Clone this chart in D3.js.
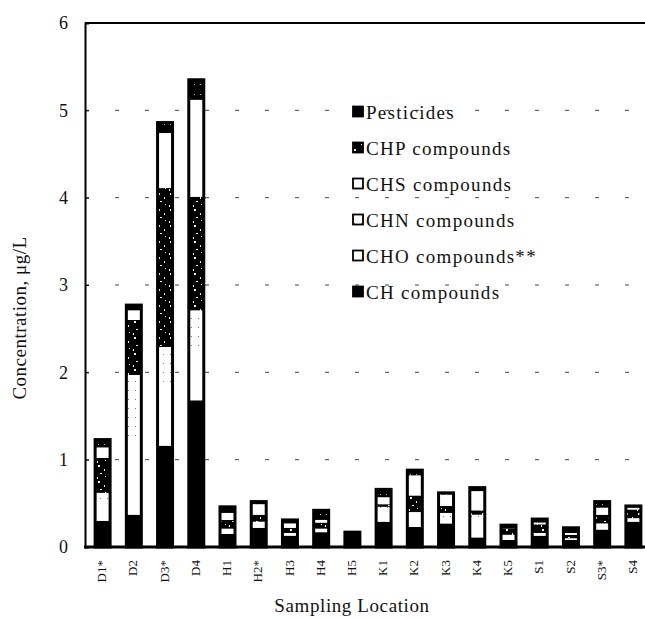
<!DOCTYPE html>
<html>
<head>
<meta charset="utf-8">
<script src="https://cdn.jsdelivr.net/npm/d3@7"></script>
<style>
  body { margin: 0; background: #fff; }
  svg text { font-family: "Liberation Serif", "Times New Roman", serif; fill: #111; }
</style>
</head>
<body>
<div id="chart"></div>
<script>
/* DATA */
const sites = ["D1*", "D2", "D3*", "D4", "H1", "H2*", "H3", "H4", "H5",
  "K1", "K2", "K3", "K4", "K5", "S1", "S2", "S3*", "S4"];

// values per site, ug/L
const chVals   = [0.30, 0.37, 1.16, 1.68, 0.15, 0.22, 0.13, 0.17, 0.17, 0.29, 0.23, 0.27, 0.11, 0.08, 0.13, 0.08, 0.20, 0.29];
const choVals  = [0.22, 0.90, 0.70, 0.60, 0.03, 0.07, 0.03, 0.04, 0.00, 0.12, 0.17, 0.06, 0.16, 0.06, 0.03, 0.02, 0.07, 0.04];
const chnVals  = [0.10, 0.70, 0.43, 0.43, 0.03, 0.00, 0.00, 0.00, 0.00, 0.05, 0.00, 0.06, 0.10, 0.00, 0.00, 0.00, 0.00, 0.00];
const chpVals  = [0.40, 0.63, 1.82, 1.30, 0.10, 0.08, 0.06, 0.07, 0.00, 0.03, 0.19, 0.08, 0.05, 0.07, 0.10, 0.04, 0.10, 0.10];
const chsVals  = [0.12, 0.11, 0.63, 1.11, 0.08, 0.12, 0.05, 0.03, 0.00, 0.08, 0.23, 0.13, 0.22, 0.00, 0.02, 0.02, 0.08, 0.02];
const pestVals = [0.09, 0.06, 0.12, 0.23, 0.07, 0.03, 0.04, 0.11, 0.00, 0.09, 0.06, 0.02, 0.04, 0.04, 0.04, 0.06, 0.07, 0.02];

const yTicks = [0, 1, 2, 3, 4, 5, 6];

// legend order as printed (top to bottom)
const legendItems = ["Pesticides", "CHP compounds", "CHS compounds", "CHN compounds", "CHO compounds**", "CH compounds"];

/* SETUP */
const width = 645, height = 619;
const margin = { top: 23, bottom: 72, left: 85 };
const serif = "Liberation Serif, Times New Roman, serif";

const series = [
  { key: "CH", vals: chVals, fill: "#000" },
  { key: "CHO", vals: choVals, fill: "#fff" },
  { key: "CHN", vals: chnVals, fill: "url(#pat-chn)" },
  { key: "CHP", vals: chpVals, fill: "url(#pat-chp)" },
  { key: "CHS", vals: chsVals, fill: "#fff" },
  { key: "Pesticides", vals: pestVals, fill: "url(#pat-pest)" }
];
const legendFill = {
  "Pesticides": "url(#pat-pest)",
  "CHP compounds": "url(#pat-chp)",
  "CHS compounds": "#fff",
  "CHN compounds": "url(#pat-chn)",
  "CHO compounds**": "#fff",
  "CH compounds": "#000"
};

const rows = sites.map((s, i) => {
  const r = { site: s };
  series.forEach(se => r[se.key] = se.vals[i]);
  return r;
});

const stacked = d3.stack().keys(series.map(s => s.key))(rows);

const svg = d3.select("#chart").append("svg")
  .attr("width", width)
  .attr("height", height);

// patterns for the greyscale fills
const defs = svg.append("defs");
const chn = defs.append("pattern").attr("id", "pat-chn")
  .attr("patternUnits", "userSpaceOnUse").attr("width", 7).attr("height", 9);
chn.append("rect").attr("width", 7).attr("height", 9).attr("fill", "#fff");
chn.append("rect").attr("x", 2).attr("y", 3).attr("width", 1).attr("height", 1).attr("fill", "#777");

const chp = defs.append("pattern").attr("id", "pat-chp")
  .attr("patternUnits", "userSpaceOnUse").attr("width", 12).attr("height", 16);
chp.append("rect").attr("width", 12).attr("height", 16).attr("fill", "#000");
[[2, 1, 2, 2], [8, 5, 1, 2], [4, 9, 2, 1], [9, 12, 1, 1], [1, 13, 1, 2]].forEach(d => {
  chp.append("rect").attr("x", d[0]).attr("y", d[1]).attr("width", d[2]).attr("height", d[3]).attr("fill", "#eee");
});

const pest = defs.append("pattern").attr("id", "pat-pest")
  .attr("patternUnits", "userSpaceOnUse").attr("width", 6).attr("height", 10);
pest.append("rect").attr("width", 6).attr("height", 10).attr("fill", "#000");
pest.append("rect").attr("x", 2).attr("y", 4).attr("width", 1).attr("height", 1).attr("fill", "#bbb");

/* SCALES */
const xScale = d3.scaleBand()
  .domain(sites)
  .range([87, 649])
  .paddingInner(0.52)
  .paddingOuter(0.26);

const yScale = d3.scaleLinear()
  .domain([0, 6])
  .range([547, margin.top]);

// faint dashed grid
svg.append("g")
  .selectAll("line")
  .data(yTicks.filter(d => d > 0 && d < 6))
  .join("line")
  .attr("x1", margin.left)
  .attr("x2", width)
  .attr("y1", d => yScale(d))
  .attr("y2", d => yScale(d))
  .attr("stroke", "#444")
  .attr("stroke-width", 1)
  .attr("stroke-dasharray", "4,26");

/* BARS */
const layer = svg.append("g")
  .selectAll("g")
  .data(stacked)
  .join("g")
  .attr("fill", d => series.find(s => s.key === d.key).fill);

layer.selectAll("rect")
  .data(d => d)
  .join("rect")
  .attr("x", d => xScale(d.data.site))
  .attr("width", xScale.bandwidth())
  .attr("y", d => yScale(d[1]))
  .attr("height", d => Math.max(0, yScale(d[0]) - yScale(d[1])));

// black frame round each bar
svg.append("g")
  .selectAll("rect")
  .data(rows)
  .join("rect")
  .attr("x", d => xScale(d.site))
  .attr("width", xScale.bandwidth())
  .attr("y", d => yScale(d3.sum(series, s => d[s.key])))
  .attr("height", d => yScale(0) - yScale(d3.sum(series, s => d[s.key])))
  .attr("fill", "none")
  .attr("stroke", "#000")
  .attr("stroke-width", 3);

/* AXES */
const yAxis = d3.axisLeft(yScale)
  .tickValues(yTicks)
  .tickFormat(d3.format("d"))
  .tickSize(-4)
  .tickPadding(17);
svg.append("g")
  .attr("transform", `translate(${margin.left},0)`)
  .call(yAxis)
  .call(g => g.select(".domain").attr("stroke-width", 2))
  .call(g => g.selectAll("text").attr("font-size", 18).attr("font-family", serif));

// top frame line
svg.append("line")
  .attr("x1", margin.left).attr("x2", width)
  .attr("y1", yScale(6)).attr("y2", yScale(6))
  .attr("stroke", "#000").attr("stroke-width", 2);

// x axis base line
svg.append("line")
  .attr("x1", margin.left - 1).attr("x2", width)
  .attr("y1", yScale(0)).attr("y2", yScale(0))
  .attr("stroke", "#000").attr("stroke-width", 3);

// rotated site labels
svg.append("g")
  .selectAll("text")
  .data(sites)
  .join("text")
  .attr("transform", d => `translate(${xScale(d) + xScale.bandwidth() / 2 - 1},560) rotate(-90)`)
  .attr("text-anchor", "end")
  .attr("dy", "0.35em")
  .attr("font-size", 13)
  .attr("font-family", serif)
  .text(d => d);

svg.append("text")
  .attr("x", 352)
  .attr("y", 612)
  .attr("text-anchor", "middle")
  .attr("font-size", 19)
  .attr("font-family", serif)
  .attr("letter-spacing", 0.6)
  .text("Sampling Location");

svg.append("text")
  .attr("transform", "translate(26,318) rotate(-90)")
  .attr("text-anchor", "middle")
  .attr("font-size", 19)
  .attr("font-family", serif)
  .attr("letter-spacing", 0.5)
  .text("Concentration, \u03bcg/L");

/* LEGEND */
const legend = svg.append("g")
  .selectAll("g")
  .data(legendItems)
  .join("g")
  .attr("transform", (d, i) => `translate(352,${112 + i * 36})`);

legend.append("rect")
  .attr("x", 1).attr("y", -5.5)
  .attr("width", 10).attr("height", 10)
  .attr("fill", d => legendFill[d])
  .attr("stroke", "#000")
  .attr("stroke-width", 1.8);

legend.append("text")
  .attr("x", 14)
  .attr("dy", "0.35em")
  .attr("font-size", 19)
  .attr("font-family", serif)
  .attr("letter-spacing", 1.3)
  .text(d => d);
</script>
</body>
</html>
